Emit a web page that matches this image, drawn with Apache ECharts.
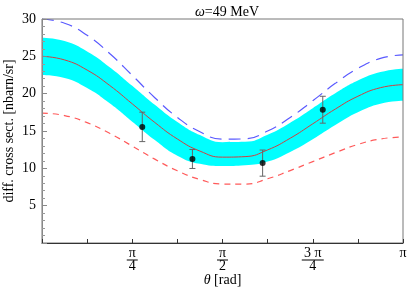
<!DOCTYPE html>
<html>
<head>
<meta charset="utf-8">
<script src="https://cdn.jsdelivr.net/npm/echarts@6/dist/echarts.min.js"></script>
<style>html,body{margin:0;padding:0;background:#fff;}#c{width:407px;height:293px;}</style>
</head>
<body>
<div id="c"></div>
<script>
// theta grid (k * pi/16, k = 0..16)
var thetaK = [0,1,2,3,4,5,6,7,8,9,10,11,12,13,14,15,16];
var centerVals = [25.0,24.52,23.16,21.10,18.64,16.14,13.93,12.31,11.5,11.57,12.47,14.03,15.96,17.94,19.65,20.80,21.2];
var bandUpper  = [27.5,27.05,25.65,23.55,21.05,18.5,16.2,14.45,13.5,13.55,14.5,16.1,18.05,20.05,21.75,22.9,23.35];
var bandLower  = [22.5,22.1,20.75,18.7,16.25,13.8,11.7,10.6,10.3,10.4,10.9,12.2,13.9,15.8,17.5,18.65,19.05];
var blueVals   = [30.0,29.43,27.81,25.37,22.45,19.46,16.82,14.89,13.9,13.95,14.99,16.80,19.05,21.38,23.38,24.72,25.2];
var redDashVals= [17.4,17.07,16.12,14.69,12.98,11.23,9.67,8.51,7.9,7.89,8.6,9.7,10.9,12.1,13.2,13.93,14.2];
// data points (angles in degrees)
var pointDeg = [50,75,110,140];
var pointVal = [15.55,11.25,10.7,17.85];
var pointErr = [1.97,1.27,1.75,1.8];
// x tick labels, keyed by multiples of pi/8
var xTickLabels = {2:'{n|π}\n{b|}\n{d|4}', 4:'{n|π}\n{b|}\n{d|2}', 6:'{n|3 π}\n{b3|}\n{d|4}', 8:'{n|π}'};

var PI = Math.PI;
function pairs(vals){ return thetaK.map(function(k,i){ return [k*PI/16, vals[i]]; }); }
var pts = pointDeg.map(function(d,i){ return [d*PI/180, pointVal[i]]; });
var errData = pointDeg.map(function(d,i){ return [d*PI/180, pointVal[i]-pointErr[i], pointVal[i]+pointErr[i]]; });

var serif = '"Liberation Serif","DejaVu Serif",serif';
var FS = 14;
var chart = echarts.init(document.getElementById('c'), null, {renderer:'canvas'});
chart.setOption({
  animation: false,
  title: {
    text: '{i|ω}=49 MeV', left: 222, top: 0, textAlign: 'center',
    textStyle: {fontFamily: serif, fontSize: FS, fontWeight: 'normal', color: '#000',
      rich: {i: {fontFamily: serif, fontSize: FS, fontStyle: 'italic', color: '#000'}}}
  },
  grid: {left: 42, right: 4, top: 19, bottom: 50, show: true, borderColor: '#777', borderWidth: 1, z: 10,
         containLabel: false, outerBoundsMode: 'none'},
  xAxis: {
    type: 'value', min: 0, max: PI, interval: PI/8, z: 10,
    name: '{i|θ} [rad]', nameLocation: 'middle', nameGap: 30, nameMoveOverlap: false,
    nameTextStyle: {fontFamily: serif, fontSize: FS, color: '#000',
      rich: {i: {fontFamily: serif, fontSize: FS, fontStyle: 'italic', color: '#000'}}},
    axisLine: {lineStyle: {color: '#333', width: 1}},
    axisTick: {inside: true, length: 4, lineStyle: {color: '#333'}},
    splitLine: {show: false},
    axisLabel: {
      margin: 5,
      formatter: function(v){ var k = Math.round(v/(PI/8)); return xTickLabels[k] || ''; },
      rich: {
        n: {fontFamily: serif, fontSize: FS, lineHeight: 11, color: '#000', align: 'center'},
        d: {fontFamily: serif, fontSize: FS, lineHeight: 10, color: '#000', align: 'center'},
        b: {width: 11, height: 1, lineHeight: 2, backgroundColor: '#000', align: 'center'},
        b3: {width: 22, height: 1, lineHeight: 2, backgroundColor: '#000', align: 'center'}
      }
    }
  },
  yAxis: {
    type: 'value', min: 0, max: 30, interval: 5, z: 10,
    name: 'diff. cross sect. [nbarn/sr]', nameLocation: 'middle', nameGap: 26, nameMoveOverlap: false,
    nameTextStyle: {fontFamily: serif, fontSize: FS, color: '#000'},
    axisLine: {show: true, lineStyle: {color: '#888', width: 1}},
    axisTick: {inside: true, length: 5, lineStyle: {color: '#888'}},
    minorTick: {show: true, splitNumber: 5, length: 3, lineStyle: {color: '#999'}},
    splitLine: {show: false},
    axisLabel: {fontFamily: serif, fontSize: FS, color: '#000', margin: 6,
      formatter: function(v){ return v === 0 ? '' : String(v); }}
  },
  series: [
    {type: 'line', data: pairs(bandUpper), smooth: true, symbol: 'none',
     lineStyle: {width: 0, opacity: 0}, areaStyle: {color: '#00ffff', opacity: 1}, z: 1},
    {type: 'line', data: pairs(bandLower), smooth: true, symbol: 'none',
     lineStyle: {width: 0, opacity: 0}, areaStyle: {color: '#ffffff', opacity: 1}, z: 2},
    {type: 'line', data: pairs(centerVals), smooth: true, symbol: 'none',
     lineStyle: {color: '#d04040', width: 1}, z: 3},
    {type: 'line', data: pairs(blueVals), smooth: true, symbol: 'none',
     lineStyle: {color: '#5a5aff', width: 1.2, type: [12, 7]}, z: 3},
    {type: 'line', data: pairs(redDashVals), smooth: true, symbol: 'none',
     lineStyle: {color: '#ff5a5a', width: 1.2, type: [6, 5]}, z: 3},
    {type: 'custom', data: errData, z: 4,
     renderItem: function(params, api){
       var lo = api.coord([api.value(0), api.value(1)]);
       var hi = api.coord([api.value(0), api.value(2)]);
       var s = {stroke: '#666', lineWidth: 1};
       return {type: 'group', children: [
         {type: 'line', shape: {x1: lo[0], y1: lo[1], x2: hi[0], y2: hi[1]}, style: s},
         {type: 'line', shape: {x1: lo[0]-3, y1: lo[1], x2: lo[0]+3, y2: lo[1]}, style: s},
         {type: 'line', shape: {x1: hi[0]-3, y1: hi[1], x2: hi[0]+3, y2: hi[1]}, style: s}
       ]};
     }},
    {type: 'scatter', data: pts, symbol: 'circle', symbolSize: 6,
     itemStyle: {color: '#000'}, z: 5}
  ]
});
</script>
</body>
</html>
